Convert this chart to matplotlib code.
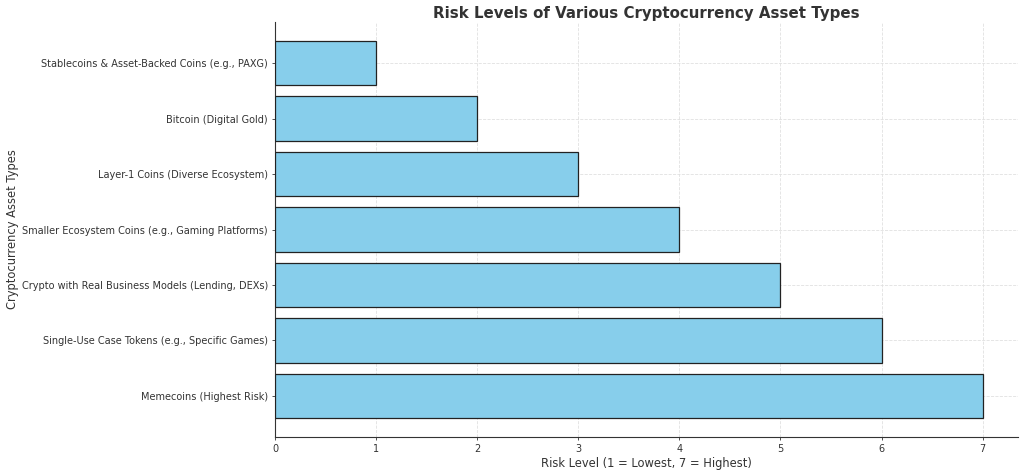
import matplotlib
matplotlib.use("Agg")
import matplotlib.pyplot as plt

categories = [
    "Stablecoins & Asset-Backed Coins (e.g., PAXG)",
    "Bitcoin (Digital Gold)",
    "Layer-1 Coins (Diverse Ecosystem)",
    "Smaller Ecosystem Coins (e.g., Gaming Platforms)",
    "Crypto with Real Business Models (Lending, DEXs)",
    "Single-Use Case Tokens (e.g., Specific Games)",
    "Memecoins (Highest Risk)",
]
risk_levels = [1, 2, 3, 4, 5, 6, 7]

text_color = "#333333"
plt.rcParams['text.color'] = text_color
plt.rcParams['axes.labelcolor'] = text_color
plt.rcParams['xtick.color'] = text_color
plt.rcParams['ytick.color'] = text_color

fig = plt.figure(figsize=(10.24, 4.71), dpi=100)
ax = fig.add_axes([275/1024, 1 - 437/471, (1018-275)/1024, (437-22)/471])
ax.barh(categories, risk_levels, color="skyblue", edgecolor="#222222", linewidth=0.9, zorder=3)
ax.invert_yaxis()
ax.set_title("Risk Levels of Various Cryptocurrency Asset Types", fontsize=10.8, fontweight="bold",
             color=text_color, pad=3)
ax.set_xlabel("Risk Level (1 = Lowest, 7 = Highest)", fontsize=8.3, labelpad=2.5)
ax.set_ylabel("Cryptocurrency Asset Types", fontsize=8.3, labelpad=2.0)
ax.tick_params(labelsize=7.0, length=2.5, width=0.6, pad=2.5)
ax.grid(True, linestyle="--", color="#e0e0e0", linewidth=0.6, zorder=0)
ax.spines["top"].set_visible(False)
ax.spines["right"].set_visible(False)
ax.spines["left"].set_color(text_color)
ax.spines["bottom"].set_color(text_color)
ax.spines["left"].set_linewidth(0.8)
ax.spines["bottom"].set_linewidth(0.8)
fig.savefig("out.png", dpi=100)
